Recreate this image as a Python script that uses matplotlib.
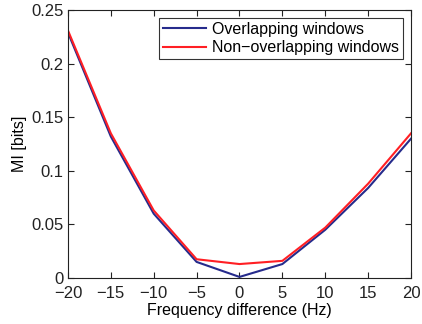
import numpy as np
import matplotlib.pyplot as plt

plt.rcParams['font.family'] = ['Liberation Sans', 'DejaVu Sans']

freq_diff = [-20, -15, -10, -5, 0, 5, 10, 15, 20]
mi_overlap = [0.229, 0.132, 0.060, 0.015, 0.001, 0.013, 0.045, 0.084, 0.130]
mi_nonoverlap = [0.231, 0.135, 0.063, 0.0175, 0.013, 0.016, 0.047, 0.088, 0.135]

fig = plt.figure(figsize=(4.22, 3.24), dpi=100)
ax = fig.add_axes([0.161, 0.142, 0.813, 0.827])

ax.plot(freq_diff, mi_overlap, color="#262b8c", lw=1.5, label="Overlapping windows")
ax.plot(freq_diff, mi_nonoverlap, color="#ff1f24", lw=1.5, label="Non\u2212overlapping windows")

ax.set_xlim(-20, 20)
ax.set_ylim(0, 0.25)
ax.set_xticks(np.arange(-20, 21, 5))
ax.set_yticks([0, 0.05, 0.1, 0.15, 0.2, 0.25])
ax.set_yticklabels(["0", "0.05", "0.1", "0.15", "0.2", "0.25"])
ax.set_xticklabels([str(v).replace("-", "\u2212") for v in range(-20, 21, 5)])
ax.tick_params(direction="in", top=True, right=True, labelsize=12, length=4, colors="#222222")
ax.tick_params(axis="x", pad=6)
ax.tick_params(axis="y", pad=3)
for s in ax.spines.values():
    s.set_color("#222222")

ax.set_xlabel("Frequency difference (Hz)", fontsize=11.5, labelpad=1)
ax.set_ylabel("MI [bits]", fontsize=11.5, labelpad=3)

leg = ax.legend(loc="upper right", fontsize=11.5, frameon=True, fancybox=False,
                edgecolor="black", borderaxespad=0.5, handlelength=2.7,
                labelspacing=0.2, borderpad=0.25, handletextpad=0.4)
leg.get_frame().set_linewidth(0.8)

fig.savefig("out.png", dpi=100)
